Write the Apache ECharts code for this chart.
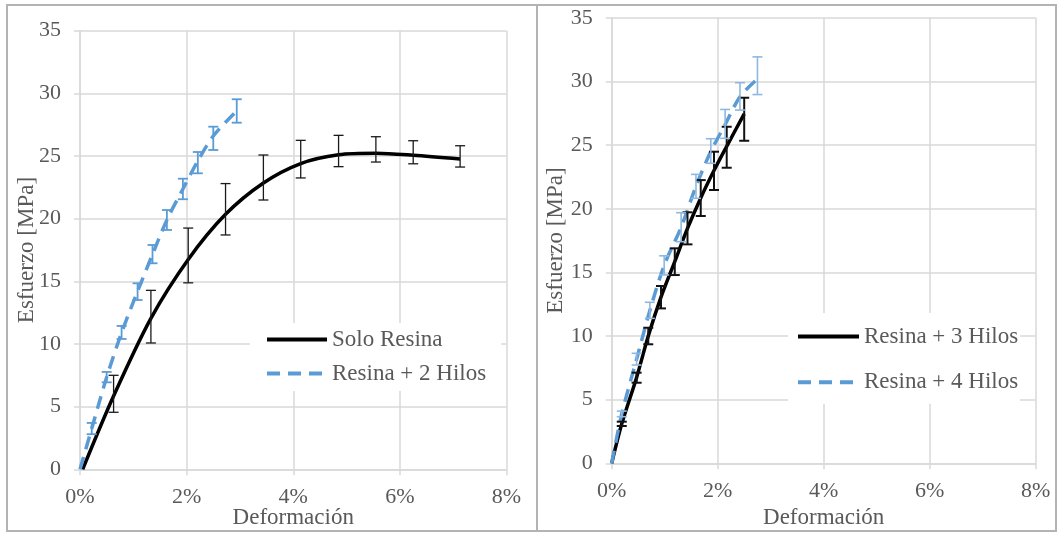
<!DOCTYPE html>
<html>
<head>
<meta charset="utf-8">
<script src="https://cdn.jsdelivr.net/npm/echarts@6/dist/echarts.min.js"></script>
<style>
html,body{margin:0;padding:0;background:#fff;}
#chart{width:1058px;height:533px;}
</style>
</head>
<body>
<div id="chart"></div>
<script>
// ---- Data (strain in %, stress in MPa) ----
const xTickValues = [0, 2, 4, 6, 8];
const xTickLabels = ['0%', '2%', '4%', '6%', '8%'];
const yTickValues = [0, 5, 10, 15, 20, 25, 30, 35];

const seriesNames = ['Solo Resina', 'Resina + 2 Hilos', 'Resina + 3 Hilos', 'Resina + 4 Hilos'];

const soloStrain  = [0.05, 0.63, 1.33, 2.03, 2.73, 3.44, 4.14, 4.85, 5.55, 6.25, 7.13];
const soloStress  = [0, 5.85, 12.05, 16.75, 20.35, 22.85, 24.4, 25.1, 25.22, 25.06, 24.76];
const soloErrHigh = [null, 7.5, 14.28, 19.25, 22.8, 25.08, 26.25, 26.65, 26.54, 26.22, 25.82];
const soloErrLow  = [null, 4.55, 10.08, 14.88, 18.7, 21.49, 23.25, 24.15, 24.52, 24.38, 24.12];

const h2Strain  = [0, 0.22, 0.5, 0.78, 1.08, 1.36, 1.63, 1.93, 2.21, 2.5, 2.94];
const h2Stress  = [0, 3.25, 7.35, 10.9, 14.2, 17.15, 19.9, 22.37, 24.6, 26.6, 28.6];
const h2ErrHigh = [null, 3.7, 7.77, 11.44, 14.84, 17.9, 20.69, 23.19, 25.32, 27.34, 29.53];
const h2ErrLow  = [null, 2.8, 6.94, 10.4, 13.51, 16.44, 19.1, 21.55, 23.62, 25.48, 27.66];

const h3Strain  = [0, 0.19, 0.47, 0.69, 0.93, 1.19, 1.43, 1.68, 1.93, 2.17, 2.5];
const h3Stress  = [0, 3.1, 6.75, 10.0, 13.05, 15.85, 18.45, 20.85, 23.0, 24.9, 27.45];
const h3ErrHigh = [null, 3.27, 7.12, 10.65, 13.93, 16.89, 19.72, 22.25, 24.48, 26.44, 28.72];
const h3ErrLow  = [null, 2.93, 6.33, 9.35, 12.17, 14.79, 17.2, 19.43, 21.47, 23.22, 25.34];

const h4Strain  = [0, 0.19, 0.47, 0.72, 0.99, 1.31, 1.59, 1.87, 2.14, 2.42, 2.75];
const h4Stress  = [0, 3.88, 8.18, 12.0, 15.55, 18.55, 21.76, 24.5, 26.6, 28.8, 30.2];
const h4ErrHigh = [null, 4.1, 8.64, 12.65, 16.3, 19.69, 22.7, 25.5, 27.8, 29.9, 31.93];
const h4ErrLow  = [null, 3.66, 7.72, 11.39, 14.8, 17.41, 20.82, 23.57, 25.53, 27.75, 28.97];

// ---- Helpers ----
const FONT = '"Liberation Serif", "Times New Roman", serif';
const TXT = '#595959';
const GRIDC = '#d9d9d9';
const BLACK = '#000000';
const BLUE = '#5b9bd5';

function pairs(xs, ys) { return xs.map((x, i) => [x, ys[i]]); }
function errData(xs, lo, hi) {
  const out = [];
  xs.forEach((x, i) => { if (lo[i] != null && hi[i] != null) out.push([x, lo[i], hi[i]]); });
  return out;
}
function errRender(color, width, hw) {
  return function (params, api) {
    const x = api.value(0), lo = api.value(1), hi = api.value(2);
    const a = api.coord([x, hi]);
    const b = api.coord([x, lo]);
    const st = { stroke: color, lineWidth: width };
    return {
      type: 'group',
      children: [
        { type: 'line', shape: { x1: a[0], y1: a[1], x2: b[0], y2: b[1] }, style: st },
        { type: 'line', shape: { x1: a[0] - hw, y1: a[1], x2: a[0] + hw, y2: a[1] }, style: st },
        { type: 'line', shape: { x1: b[0] - hw, y1: b[1], x2: b[0] + hw, y2: b[1] }, style: st }
      ]
    };
  };
}
function xAxisCfg(gi, nameGap) {
  return {
    gridIndex: gi, type: 'value', min: 0, max: 8, interval: 2,
    name: 'Deformación', nameLocation: 'middle', nameGap: nameGap, nameMoveOverlap: false,
    nameTextStyle: { fontFamily: FONT, fontSize: 23, color: TXT },
    axisLine: { show: true, onZero: false, lineStyle: { color: GRIDC, width: 1.5 } },
    axisTick: { show: true, length: 6, lineStyle: { color: GRIDC, width: 1.5 } },
    splitLine: { show: true, lineStyle: { color: GRIDC, width: 1.5 } },
    axisLabel: {
      fontFamily: FONT, fontSize: 22, color: TXT, margin: 17,
      formatter: v => xTickLabels[xTickValues.indexOf(v)] || ''
    }
  };
}
function yAxisCfg(gi, gap) {
  return {
    gridIndex: gi, type: 'value', min: 0, max: 35, interval: 5,
    name: 'Esfuerzo [MPa]', nameLocation: 'middle', nameGap: gap, nameRotate: 90, nameMoveOverlap: false,
    nameTextStyle: { fontFamily: FONT, fontSize: 23, color: TXT },
    axisLine: { show: true, lineStyle: { color: GRIDC, width: 1.5 } },
    axisTick: { show: true, length: 6, lineStyle: { color: GRIDC, width: 1.5 } },
    splitLine: { show: true, lineStyle: { color: GRIDC, width: 1.5 } },
    axisLabel: { fontFamily: FONT, fontSize: 22, color: TXT, margin: 19 }
  };
}
function lineSeries(name, gi, xs, ys, color, dashed) {
  return {
    name: name, type: 'line', xAxisIndex: gi, yAxisIndex: gi,
    data: pairs(xs, ys), smooth: 0.3, symbol: 'none', showSymbol: false,
    lineStyle: { color: color, width: 3.5, type: dashed ? [13, 8] : 'solid', cap: 'butt' },
    itemStyle: { color: color }, z: 3, animation: false
  };
}
function errSeries(gi, xs, lo, hi, color, w, hw) {
  return {
    type: 'custom', xAxisIndex: gi, yAxisIndex: gi,
    data: errData(xs, lo, hi), renderItem: errRender(color, w, hw),
    encode: { x: 0, y: [1, 2] }, z: 4, animation: false, silent: true
  };
}
const legendCommon = {
  orient: 'vertical', itemWidth: 60, itemHeight: 23,
  backgroundColor: '#ffffff',
  itemStyle: { opacity: 0, borderWidth: 0 },
  lineStyle: { width: 4, cap: 'butt' },
  textStyle: { fontFamily: FONT, fontSize: 23, color: TXT }
};

const chart = echarts.init(document.getElementById('chart'), null, { renderer: 'canvas' });
chart.setOption({
  backgroundColor: '#ffffff',
  animation: false,
  textStyle: { fontFamily: FONT },
  graphic: [
    { type: 'rect', shape: { x: 7, y: 5, width: 530, height: 526 }, style: { fill: 'none', stroke: '#b3b3b3', lineWidth: 2 }, silent: true, z: 0 },
    { type: 'rect', shape: { x: 537, y: 5, width: 519, height: 526 }, style: { fill: 'none', stroke: '#b3b3b3', lineWidth: 2 }, silent: true, z: 0 }
  ],
  grid: [
    { left: 80, right: 551.5, top: 30.7, bottom: 63.7, containLabel: false, outerBoundsMode: 'none' },
    { left: 611.7, right: 22.3, top: 17.8, bottom: 69.7, containLabel: false, outerBoundsMode: 'none' }
  ],
  xAxis: [xAxisCfg(0, 37), xAxisCfg(1, 43.5)],
  yAxis: [yAxisCfg(0, 41.5), yAxisCfg(1, 44)],
  legend: [
    Object.assign({}, legendCommon, {
      data: [seriesNames[0], seriesNames[1]],
      left: 250, top: 323,
      padding: [5, 15, 6, 15], itemGap: 11
    }),
    Object.assign({}, legendCommon, {
      data: [seriesNames[2], seriesNames[3]],
      left: 788, top: 313, itemWidth: 61,
      padding: [12, 2, 10, 8], itemGap: 22.7
    })
  ],
  series: [
    lineSeries(seriesNames[0], 0, soloStrain, soloStress, BLACK, false),
    lineSeries(seriesNames[1], 0, h2Strain, h2Stress, BLUE, true),
    errSeries(0, soloStrain, soloErrLow, soloErrHigh, '#1a1a1a', 1.3, 5),
    errSeries(0, h2Strain, h2ErrLow, h2ErrHigh, BLUE, 1.8, 5),
    lineSeries(seriesNames[2], 1, h3Strain, h3Stress, BLACK, false),
    lineSeries(seriesNames[3], 1, h4Strain, h4Stress, BLUE, true),
    errSeries(1, h3Strain, h3ErrLow, h3ErrHigh, '#111111', 2, 5),
    errSeries(1, h4Strain, h4ErrLow, h4ErrHigh, '#8fb8e0', 1.6, 5)
  ]
});
</script>
</body>
</html>
